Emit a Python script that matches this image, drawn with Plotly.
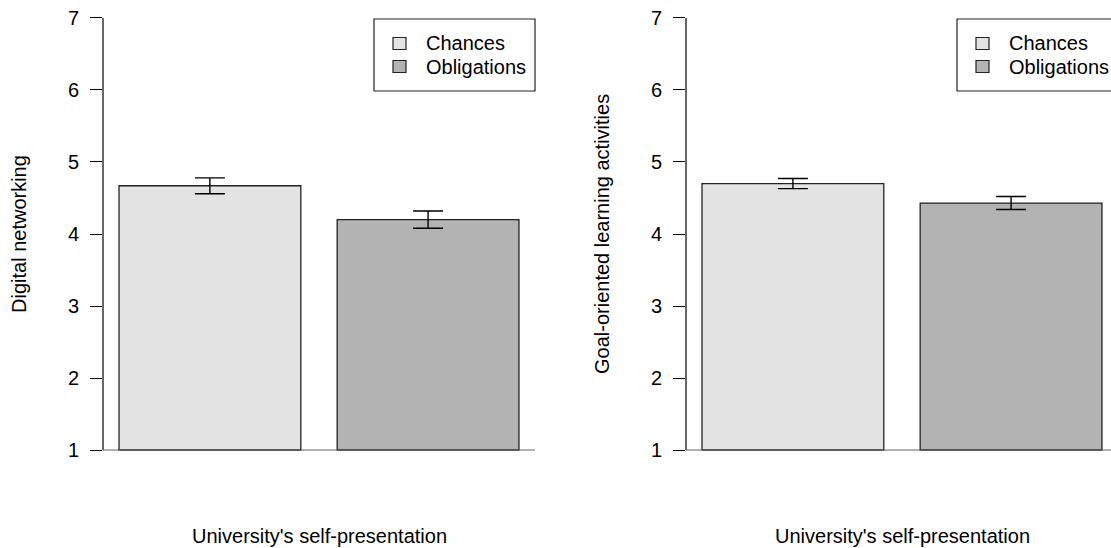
import plotly.graph_objects as go

# --- data -----------------------------------------------------------------
groups = ["Chances", "Obligations"]
bar_centres = [0.7, 1.9]                 # barplot positions (width 1, space 0.2)
networking_mean = [4.67, 4.20]
networking_se = [0.11, 0.12]
learning_mean = [4.70, 4.43]
learning_se = [0.07, 0.09]
y_ticks = [1, 2, 3, 4, 5, 6, 7]
y_titles = ["Digital networking", "Goal-oriented learning activities"]
x_title = "University's self-presentation"

fills = ["#e3e3e3", "#b3b3b3"]
FONT = "Liberation Sans, Arial, Helvetica, sans-serif"
W, H = 1111, 548
PX_PER_UNIT = 181.8                      # horizontal scale of both panels
X_MIN = 0.112
Y_RANGE = [0.76, 7.24]
BASE = 1
PANEL_SHIFT = 583                        # horizontal offset of the second panel (px)

fig = go.Figure()

panels = [
    dict(mean=networking_mean, se=networking_se, xa="x", ya="y"),
    dict(mean=learning_mean, se=learning_se, xa="x2", ya="y2"),
]

for p in panels:
    for i, g in enumerate(groups):
        fig.add_trace(go.Bar(
            x=[bar_centres[i]],
            y=[p["mean"][i] - BASE],
            base=BASE,
            width=1.0,
            name=g,
            marker=dict(color=fills[i], line=dict(color="#222222", width=1.3)),
            error_y=dict(type="data", array=[p["se"][i]], visible=True,
                         color="black", thickness=1.4, width=15),
            xaxis=p["xa"], yaxis=p["ya"],
            showlegend=False,
            hoverinfo="skip",
        ))

# panel geometry in pixels
left_l, left_r = 103, 535
right_l = left_l + PANEL_SHIFT
y_top_px, y_bot_px = 0.7, 467.3
ydom = [1 - y_bot_px / H, 1 - y_top_px / H]

xaxis_common = dict(visible=False, showgrid=False, zeroline=False, fixedrange=True)
yaxis_common = dict(
    range=Y_RANGE, tickvals=y_ticks, ticktext=[str(t) for t in y_ticks],
    ticks="outside", ticklen=12, tickwidth=1, tickcolor="black",
    showline=False, showgrid=False, zeroline=False,
    tickfont=dict(family=FONT, size=20, color="black"),
    ticklabelstandoff=7, domain=ydom,
)

fig.update_layout(
    width=W, height=H,
    margin=dict(l=0, r=0, t=0, b=0, autoexpand=False),
    paper_bgcolor="white", plot_bgcolor="white",
    barmode="overlay",
    showlegend=False,
    xaxis=dict(domain=[left_l / W, left_r / W],
               range=[X_MIN, X_MIN + (left_r - left_l) / PX_PER_UNIT], **xaxis_common),
    xaxis2=dict(domain=[right_l / W, 1.0],
                range=[X_MIN, X_MIN + (W - right_l) / PX_PER_UNIT], **xaxis_common),
    yaxis=dict(anchor="x", **yaxis_common),
    yaxis2=dict(anchor="x2", **yaxis_common),
)


def px_x(v):
    return v / W


def px_y(v):
    return 1 - v / H


shapes = []
annotations = []
for k in range(2):
    xl = left_l + PANEL_SHIFT * k
    xr = left_r + PANEL_SHIFT * k
    ya = "y" if k == 0 else "y2"
    # left axis line spanning the tick range only
    shapes.append(dict(type="line", xref="paper", yref=ya,
                       x0=px_x(xl), x1=px_x(xl), y0=y_ticks[0], y1=y_ticks[-1],
                       line=dict(color="black", width=1.2)))
    # baseline under the bars
    shapes.append(dict(type="line", xref="paper", yref=ya,
                       x0=px_x(xl), x1=px_x(min(xr, W)), y0=BASE, y1=BASE,
                       line=dict(color="#666666", width=1)))
    annotations.append(dict(text=y_titles[k], xref="paper", yref="paper",
                            x=px_x(19 + PANEL_SHIFT * k), y=px_y(234), textangle=-90,
                            xanchor="center", yanchor="middle", showarrow=False,
                            font=dict(family=FONT, size=20, color="black")))
    annotations.append(dict(text=x_title, xref="paper", yref="paper",
                            x=px_x(319 + PANEL_SHIFT * k), y=px_y(536),
                            xanchor="center", yanchor="middle", showarrow=False,
                            font=dict(family=FONT, size=20, color="black")))

    # legend box in the top-right corner of the panel
    lx0 = 374 + PANEL_SHIFT * k
    lx1 = xr
    shapes.append(dict(type="rect", xref="paper", yref="paper",
                       x0=px_x(lx0), x1=px_x(lx1), y0=px_y(91), y1=px_y(19),
                       line=dict(color="#222222", width=1.2), fillcolor="white",
                       layer="above"))
    for i, g in enumerate(groups):
        cy = 43.5 + 23 * i
        shapes.append(dict(type="rect", xref="paper", yref="paper",
                           x0=px_x(lx0 + 19), x1=px_x(lx0 + 32),
                           y0=px_y(cy + 6), y1=px_y(cy - 6),
                           line=dict(color="#222222", width=1.2), fillcolor=fills[i],
                           layer="above"))
        annotations.append(dict(text=g, xref="paper", yref="paper",
                                x=px_x(lx0 + 50), y=px_y(cy),
                                xanchor="left", yanchor="middle", showarrow=False,
                                font=dict(family=FONT, size=20, color="black")))

fig.update_layout(shapes=shapes, annotations=annotations)

fig.write_html("out.html")
